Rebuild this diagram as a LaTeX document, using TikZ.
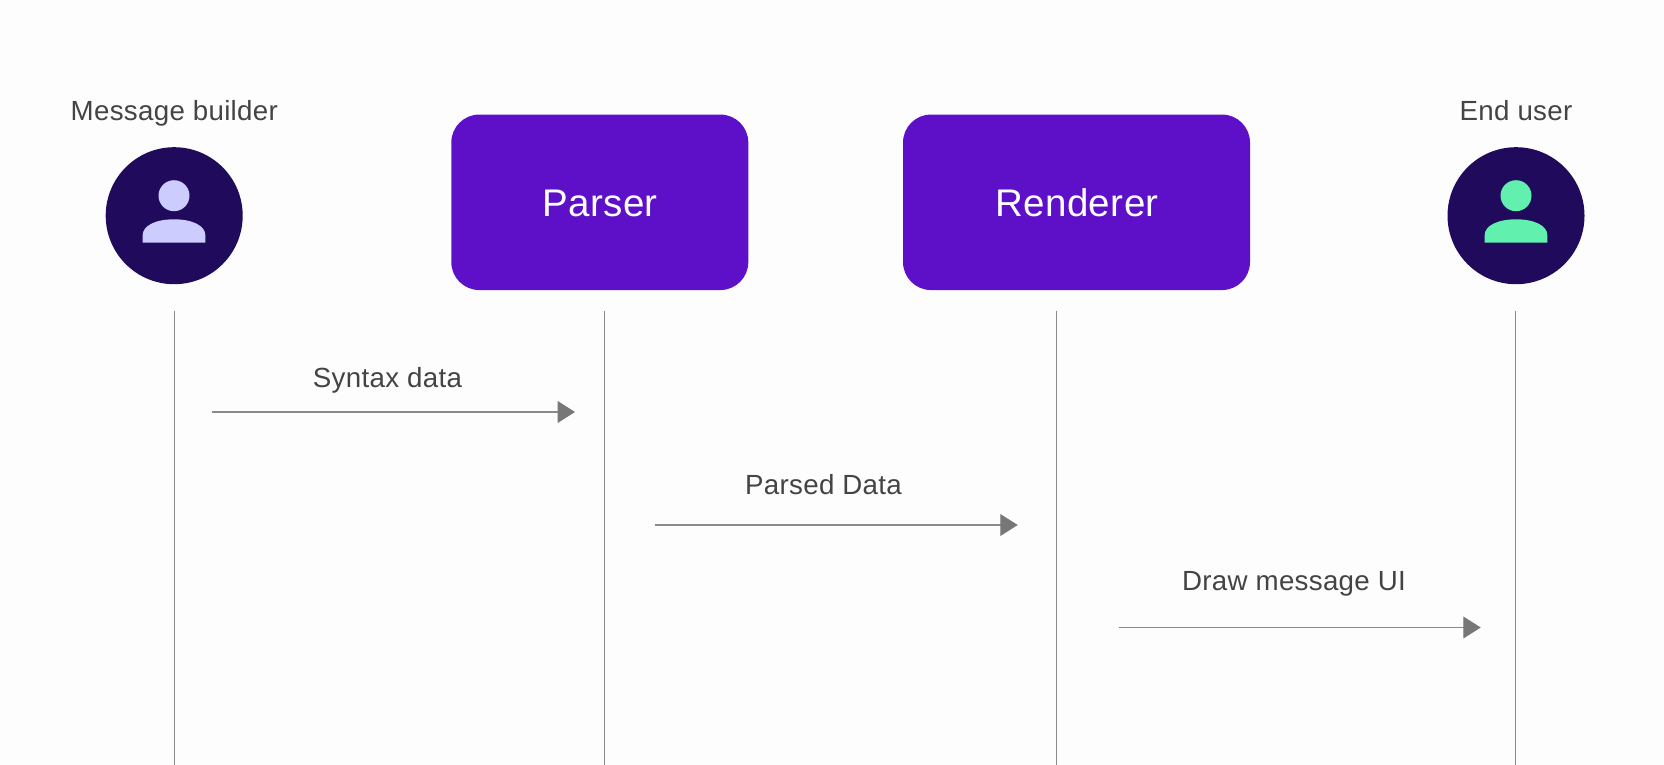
\documentclass[tikz,border=0pt]{standalone}
\usepackage{fontspec}
\setmainfont[LetterSpace=1.1]{Liberation Sans}
\usetikzlibrary{arrows.meta}
\definecolor{paperwhite}{HTML}{FDFDFD}
\definecolor{boxviolet}{HTML}{5E10C8}
\definecolor{nightviolet}{HTML}{1F0A5C}
\definecolor{lilac}{HTML}{CCCCFF}
\definecolor{mint}{HTML}{62F0AE}
\definecolor{inkgray}{HTML}{444444}
\definecolor{wiregray}{HTML}{777777}
\definecolor{linegray}{HTML}{8A8A8A}
\tikzset{
  stagebox/.style={draw=none,fill=boxviolet,rounded corners=28pt,inner sep=0pt,text=white,minimum height=175.5pt},
  stagetext/.style={font=\fontsize{38.5}{44}\selectfont,text=white,inner sep=0pt,anchor=base},
  usercircle/.style={circle,fill=nightviolet,inner sep=0pt,minimum size=137pt},
  userhead/.style={circle,inner sep=0pt,minimum size=31pt},
  caption/.style={font=\fontsize{27.7}{32}\selectfont,text=inkgray,inner sep=0pt,anchor=base},
  lifeline/.style={draw=linegray,line width=1pt},
  message/.style={draw=linegray,line width=1.1pt,-{Triangle[length=17.3pt,width=21.7pt,color=wiregray,fill=wiregray]}}
}
\begin{document}
\begin{tikzpicture}[x=1pt,y=-1pt]
\path [fill=paperwhite] (0,0) rectangle (1664,765);
\useasboundingbox (0,0) rectangle (1664,765);
% the four heads
\node (builder) [usercircle] at (174.2,215.7) {};
\node (builderhead) [userhead,fill=lilac] at (174,195.7) {};
\fill [lilac] (142.7,242.7) -- (142.7,235) .. controls (142.7,226) and (155,219.3) .. (174,219.3) .. controls (193,219.3) and (205.3,226) .. (205.3,235) -- (205.3,242.7) -- cycle;
\node (enduser) [usercircle] at (1516,215.7) {};
\node (enduserhead) [userhead,fill=mint] at (1516,195.7) {};
\fill [mint] (1484.7,242.7) -- (1484.7,235) .. controls (1484.7,226) and (1497,219.3) .. (1516,219.3) .. controls (1535,219.3) and (1547.3,226) .. (1547.3,235) -- (1547.3,242.7) -- cycle;
\node (parser) [stagebox,minimum width=297pt] at (599.8,202.3) {};
\node (renderer) [stagebox,minimum width=347pt] at (1076.5,202.3) {};
\node (parsertext) [stagetext] at (600,216.5) {Parser};
\node (renderertext) [stagetext] at (1077,216.5) {Renderer};
\node (buildertext) [caption] at (174.3,121) {Message builder};
\node (endusertext) [caption] at (1516,121) {End user};
% lifelines
\coordinate (buildertop) at (174.5,310.5);
\coordinate (builderend) at (174.5,765);
\coordinate (parsertop) at (604.5,310.5);
\coordinate (parserend) at (604.5,765);
\coordinate (renderertop) at (1056.5,310.5);
\coordinate (rendererend) at (1056.5,765);
\coordinate (endusertop) at (1515.5,310.5);
\coordinate (enduserend) at (1515.5,765);
\draw [lifeline] (buildertop) -- (builderend);
\draw [lifeline] (parsertop) -- (parserend);
\draw [lifeline] (renderertop) -- (rendererend);
\draw [lifeline] (endusertop) -- (enduserend);
% messages
\coordinate (syntaxfrom) at (212,412);
\coordinate (syntaxto) at (575,412);
\coordinate (parsedfrom) at (654.8,525);
\coordinate (parsedto) at (1017.7,525);
\coordinate (drawfrom) at (1118.5,627.5);
\coordinate (drawto) at (1480.7,627.5);
\draw [message] (syntaxfrom) -- (syntaxto);
\draw [message] (parsedfrom) -- (parsedto);
\draw [message] (drawfrom) -- (drawto);
\node (syntaxtext) [caption] at (387.5,387) {Syntax data};
\node (parsedtext) [caption] at (823.5,494) {Parsed Data};
\node (drawtext) [caption] at (1294,590) {Draw message UI};
\end{tikzpicture}
\end{document}
